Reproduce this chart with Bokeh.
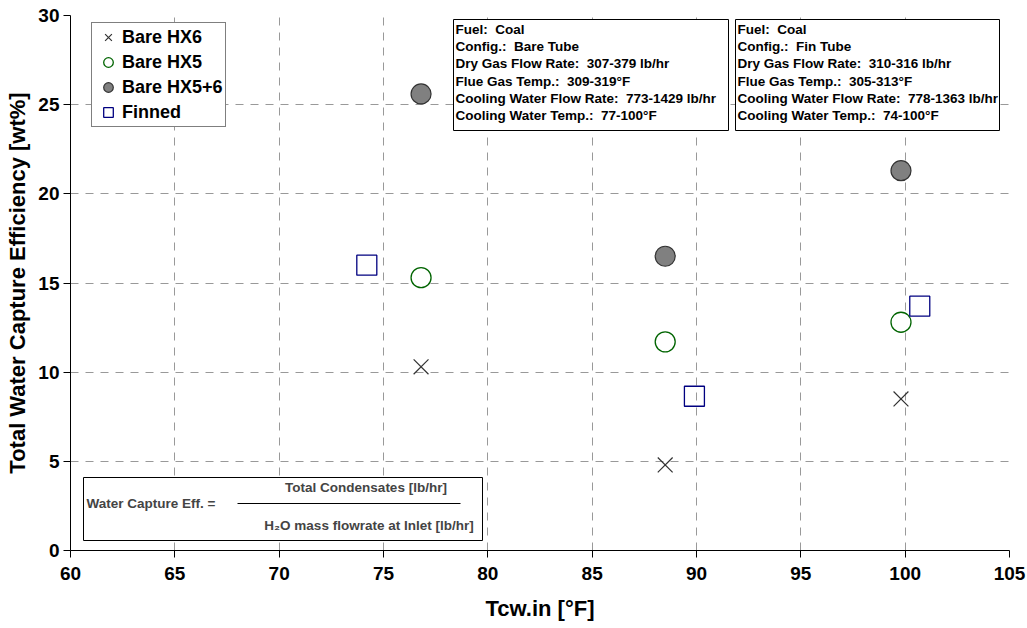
from bokeh.plotting import figure
from bokeh.models import Legend, LegendItem, Label, BoxAnnotation, FixedTicker
from bokeh.embed import file_html
from bokeh.resources import INLINE

# ---- data ----
hx6_x = [76.8, 88.5, 99.8]
hx6_y = [10.3, 4.8, 8.5]
hx5_x = [76.8, 88.5, 99.8]
hx5_y = [15.3, 11.7, 12.8]
hx56_x = [76.8, 88.5, 99.8]
hx56_y = [25.6, 16.5, 21.3]
fin_x = [74.2, 89.9, 100.7]
fin_y = [16.0, 8.65, 13.7]

series_names = ["Bare HX6", "Bare HX5", "Bare HX5+6", "Finned"]
x_ticks = [60, 65, 70, 75, 80, 85, 90, 95, 100, 105]
y_ticks = [0, 5, 10, 15, 20, 25, 30]

box1_lines = ["Fuel:  Coal", "Config.:  Bare Tube", "Dry Gas Flow Rate:  307-379 lb/hr",
              "Flue Gas Temp.:  309-319\u00b0F", "Cooling Water Flow Rate:  773-1429 lb/hr",
              "Cooling Water Temp.:  77-100\u00b0F"]
box2_lines = ["Fuel:  Coal", "Config.:  Fin Tube", "Dry Gas Flow Rate:  310-316 lb/hr",
              "Flue Gas Temp.:  305-313\u00b0F", "Cooling Water Flow Rate:  778-1363 lb/hr",
              "Cooling Water Temp.:  74-100\u00b0F"]
formula_left = "Water Capture Eff. ="
formula_num = "Total Condensates [lb/hr]"
formula_den = "H\u2082O mass flowrate at Inlet [lb/hr]"

FONT = "Liberation Sans"
X0, X1, Y0, Y1 = 60, 105, 0, 30
FL, FR, FT, FB = 70, 1009, 15, 550  # frame pixel extents


def dx(px):
    return X0 + (px - FL) * (X1 - X0) / (FR - FL)


def dy(py):
    return Y0 + (FB - py) * (Y1 - Y0) / (FB - FT)


def keep_spaces(s):
    return s.replace("  ", " \u00a0")


p = figure(width=1027, height=628, x_range=(X0, X1), y_range=(Y0, Y1),
           output_backend="svg", toolbar_location=None,
           min_border_left=FL, min_border_right=1027 - FR,
           min_border_top=FT, min_border_bottom=628 - FB)
p.outline_line_color = None
p.background_fill_color = "white"

for ax in (p.xaxis, p.yaxis):
    ax.axis_line_color = "black"
    ax.major_tick_line_color = "black"
    ax.minor_tick_line_color = None
    ax.major_tick_in = 0
    ax.major_tick_out = 7
    ax.major_label_text_font = FONT
    ax.major_label_text_font_style = "bold"
    ax.major_label_text_font_size = "19px"
    ax.major_label_text_color = "black"
    ax.axis_label_text_font = FONT
    ax.axis_label_text_font_style = "bold"
    ax.axis_label_text_font_size = "22px"
    ax.axis_label_text_color = "black"

p.xaxis.ticker = FixedTicker(ticks=x_ticks)
p.yaxis.ticker = FixedTicker(ticks=y_ticks)
p.xaxis.axis_label = "Tcw.in [\u00b0F]"
p.yaxis.axis_label = "Total Water Capture Efficiency [wt%]"
p.xaxis.major_label_standoff = 9
p.yaxis.major_label_standoff = 4
p.xaxis.axis_label_standoff = 13
p.yaxis.axis_label_standoff = 5

for g in (p.xgrid, p.ygrid):
    g.grid_line_color = "#999999"
    g.grid_line_dash = "8 7"
    g.grid_line_width = 1

# annotation boxes
for (l, r, t, b) in [(453, 728, 19, 130), (735, 999, 19, 130), (83, 482, 477, 540)]:
    p.add_layout(BoxAnnotation(left=dx(l), right=dx(r), top=dy(t), bottom=dy(b),
                               fill_color="white", fill_alpha=1.0,
                               line_color="black", line_width=1, line_alpha=1.0))

for lines, left in [(box1_lines, 455), (box2_lines, 737)]:
    for i, s in enumerate(lines):
        p.add_layout(Label(x=dx(left), y=dy(28.5 + i * 17.35), text=keep_spaces(s),
                           text_font=FONT, text_font_style="bold", text_font_size="13.5px",
                           text_color="black", text_baseline="middle", text_align="left"))

p.add_layout(Label(x=dx(86), y=dy(503), text=formula_left,
                   text_font=FONT, text_font_style="bold", text_font_size="13.5px",
                   text_baseline="middle", text_align="left"))
p.add_layout(Label(x=dx(365.5), y=dy(487), text=formula_num,
                   text_font=FONT, text_font_style="bold", text_font_size="13.5px",
                   text_baseline="middle", text_align="center"))
p.add_layout(Label(x=dx(368.5), y=dy(525), text=formula_den,
                   text_font=FONT, text_font_style="bold", text_font_size="13.5px",
                   text_baseline="middle", text_align="center"))
p.segment(x0=[dx(237)], y0=[dy(503)], x1=[dx(460)], y1=[dy(503)], line_color="black",
          line_width=1, level="overlay")

# data
r_hx6 = p.scatter(hx6_x, hx6_y, marker="x", size=21, line_color="#333333", line_width=1.2)
r_hx5 = p.scatter(hx5_x, hx5_y, marker="circle", size=20, line_color="#006400",
                  fill_color="white", line_width=1.3)
r_hx56 = p.scatter(hx56_x, hx56_y, marker="circle", size=20, line_color="#333333",
                   fill_color="#808080", line_width=1.2)
r_fin = p.scatter(fin_x, fin_y, marker="square", size=20, line_color="#000080",
                  fill_color="white", fill_alpha=0, line_width=1.3)

legend = Legend(items=[LegendItem(label=n, renderers=[r]) for n, r in
                       zip(series_names, [r_hx6, r_hx5, r_hx56, r_fin])],
                location=(21, 423), orientation="vertical",
                label_text_font=FONT, label_text_font_style="bold",
                label_text_font_size="18px", label_text_color="black",
                glyph_width=28, glyph_height=24, label_height=24, spacing=1,
                label_standoff=0, padding=2, margin=0,
                border_line_color="black", border_line_width=1,
                background_fill_color="white", background_fill_alpha=1.0)
p.add_layout(legend, "center")

open("out.html", "w").write(file_html(p, INLINE))
